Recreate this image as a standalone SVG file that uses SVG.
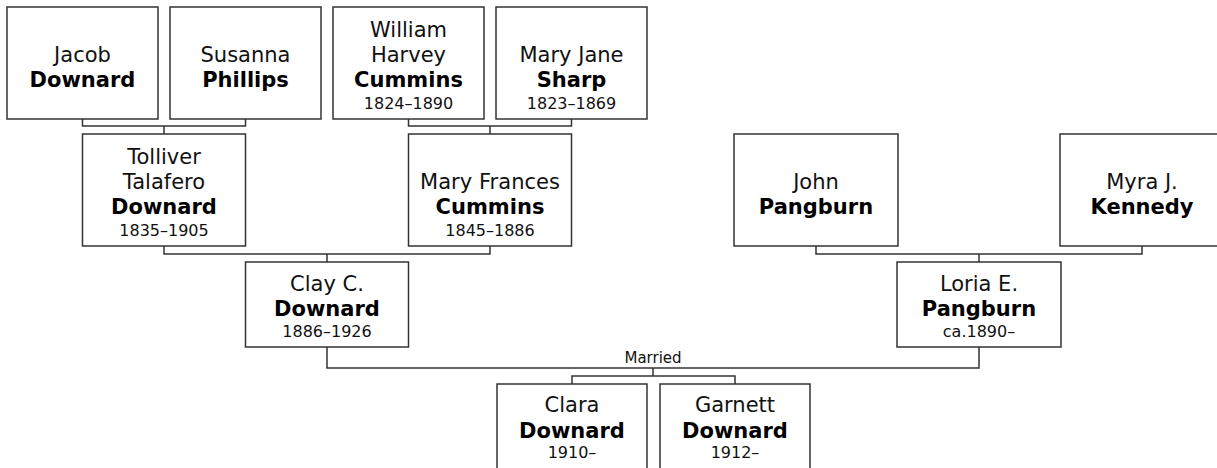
<svg xmlns="http://www.w3.org/2000/svg" width="1217" height="468" viewBox="0 0 1217 468">
<style>
.box{fill:#fff;stroke:#333;stroke-width:1.5}
.con{fill:none;stroke:#333;stroke-width:1.5}
text{font-family:"DejaVu Sans",Verdana,sans-serif;text-anchor:middle;fill:#111}
.n{font-size:21px}
.s{font-size:21px;font-weight:bold;fill:#000}
.d{font-size:16px}
.lbl{font-size:15px}
</style>
<rect width="1217" height="468" fill="#fff"/>
<g id="connectors">
<path class="con" d="M82.5,119 V126 H245.5 V119 M164,126 V134"/>
<path class="con" d="M408.5,119 V126 H571.5 V119 M490,126 V134"/>
<path class="con" d="M164,246 V254 H490 V246 M327,254 V262"/>
<path class="con" d="M816,246 V254 H1142 V246 M979,254 V262"/>
<path class="con" d="M327,347 V368 H979 V347"/>
<path class="con" d="M653,368 V376 M572,384 V376 H735 V384"/>
<text class="lbl" x="653" y="363">Married</text>
</g>
<g id="jacob"><rect class="box" x="7" y="7" width="151" height="112"/><text class="n" x="82.5" y="62">Jacob</text><text class="s" x="82.5" y="87">Downard</text></g>
<g id="susanna"><rect class="box" x="170" y="7" width="151" height="112"/><text class="n" x="245.5" y="62">Susanna</text><text class="s" x="245.5" y="87">Phillips</text></g>
<g id="william"><rect class="box" x="333" y="7" width="151" height="112"/><text class="n" x="408.5" y="37">William</text><text class="n" x="408.5" y="62">Harvey</text><text class="s" x="408.5" y="87">Cummins</text><text class="d" x="408.5" y="109">1824–1890</text></g>
<g id="maryjane"><rect class="box" x="496" y="7" width="151" height="112"/><text class="n" x="571.5" y="62">Mary Jane</text><text class="s" x="571.5" y="87">Sharp</text><text class="d" x="571.5" y="109">1823–1869</text></g>
<g id="tolliver"><rect class="box" x="82.5" y="134" width="163" height="112"/><text class="n" x="164" y="164">Tolliver</text><text class="n" x="164" y="189">Talafero</text><text class="s" x="164" y="214">Downard</text><text class="d" x="164" y="236">1835–1905</text></g>
<g id="maryfrances"><rect class="box" x="408.5" y="134" width="163" height="112"/><text class="n" x="490" y="189" textLength="140" lengthAdjust="spacing">Mary Frances</text><text class="s" x="490" y="214">Cummins</text><text class="d" x="490" y="236">1845–1886</text></g>
<g id="john"><rect class="box" x="734" y="134" width="164" height="112"/><text class="n" x="816" y="189">John</text><text class="s" x="816" y="214">Pangburn</text></g>
<g id="myra"><rect class="box" x="1060" y="134" width="164" height="112"/><text class="n" x="1142" y="189">Myra J.</text><text class="s" x="1142" y="214">Kennedy</text></g>
<g id="clay"><rect class="box" x="245.5" y="262" width="163" height="85"/><text class="n" x="327" y="291">Clay C.</text><text class="s" x="327" y="316">Downard</text><text class="d" x="327" y="337">1886–1926</text></g>
<g id="loria"><rect class="box" x="897" y="262" width="164" height="85"/><text class="n" x="979" y="291">Loria E.</text><text class="s" x="979" y="316">Pangburn</text><text class="d" x="979" y="337">ca.1890–</text></g>
<g id="clara"><rect class="box" x="497" y="384" width="150" height="90"/><text class="n" x="572" y="412">Clara</text><text class="s" x="572" y="438">Downard</text><text class="d" x="572" y="458">1910–</text></g>
<g id="garnett"><rect class="box" x="660" y="384" width="150" height="90"/><text class="n" x="735" y="412">Garnett</text><text class="s" x="735" y="438">Downard</text><text class="d" x="735" y="458">1912–</text></g>
</svg>
